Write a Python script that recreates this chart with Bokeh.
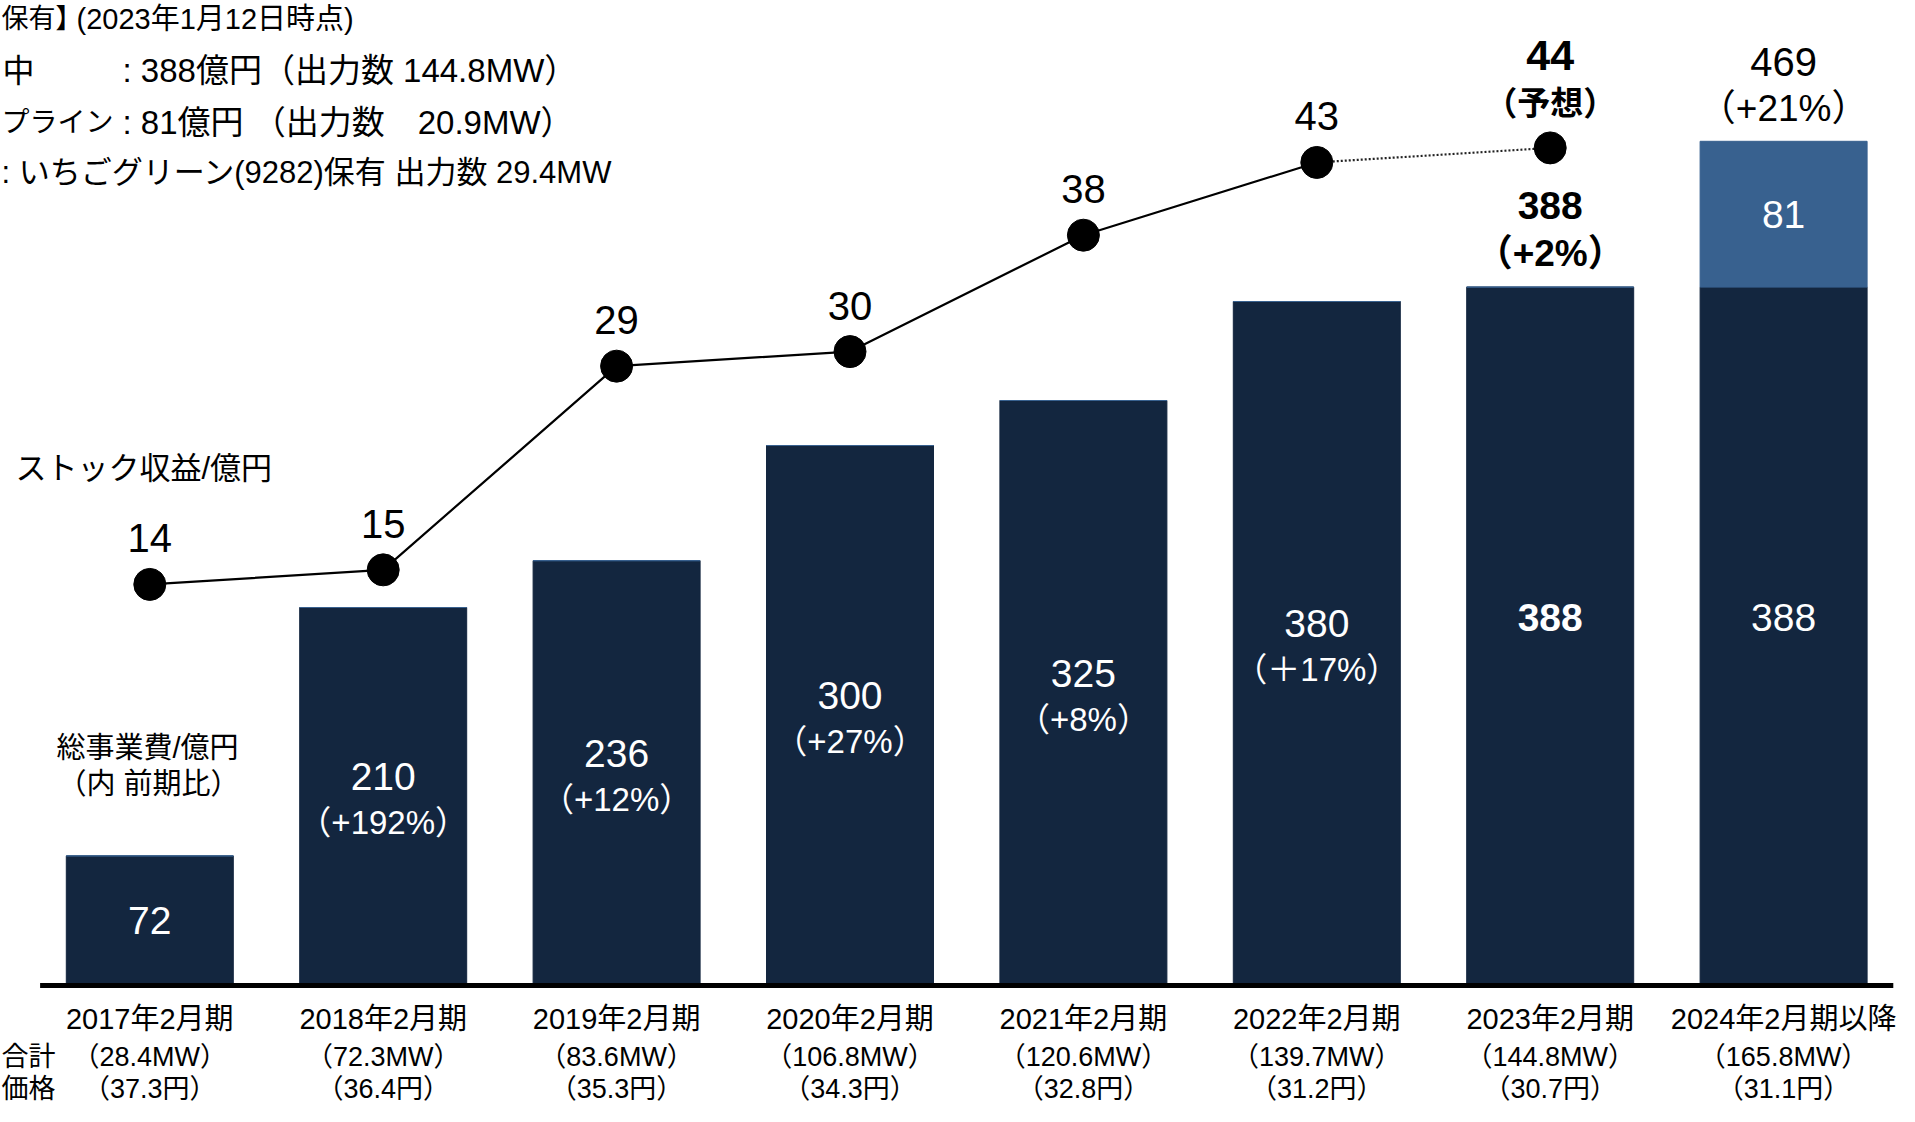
from bokeh.plotting import figure
from bokeh.models import Range1d, ColumnDataSource
from bokeh.core.properties import value
from bokeh.embed import file_html
from bokeh.resources import INLINE

# ---------------- data ----------------
periods = ["2017年2月期", "2018年2月期", "2019年2月期", "2020年2月期",
           "2021年2月期", "2022年2月期", "2023年2月期", "2024年2月期以降"]
capacity_mw = [28.4, 72.3, 83.6, 106.8, 120.6, 139.7, 144.8, 165.8]
unit_price_yen = [37.3, 36.4, 35.3, 34.3, 32.8, 31.2, 30.7, 31.1]
total_cost = [72, 210, 236, 300, 325, 380, 388, 388]          # 総事業費/億円 (operating)
pipeline_cost = [0, 0, 0, 0, 0, 0, 0, 81]                     # パイプライン
growth_labels = ["", "（+192%）", "（+12%）", "（+27%）", "（+8%）",
                 "（＋17%）", "（+2%）", "（+21%）"]
stock_revenue = [14, 15, 29, 30, 38, 43, 44]                  # ストック収益/億円 (last = forecast)

info_lines = [
    "保有】",
    "(2023年1月12日時点)",
    "中",
    ": 388億円（出力数 144.8MW）",
    "プライン",
    ": 81億円 （出力数　20.9MW）",
    ": いちごグリーン(9282)保有 出力数 29.4MW",
]

# ---------------- styling ----------------
FONT = value("Liberation Sans, Noto Sans CJK JP")
NAVY = "#13263F"
BLUE = "#38618F"
W, H = 1899, 1106
X0S, XSTEP = 149.3, 233.4      # px of first category centre and spacing
BASE_S, BAR_PX = 985.0, 1.8    # px of bar baseline, px per 億円
LINE_A, LINE_PX = 787.6, 14.55 # stock line mapping

idx = list(range(len(periods)))

p = figure(width=W, height=H, output_backend="svg", toolbar_location=None,
           x_axis_type=None, y_axis_type=None, min_border=0,
           x_range=Range1d((0 - X0S) / XSTEP, (W - X0S) / XSTEP),
           y_range=Range1d((BASE_S - H) / BAR_PX, BASE_S / BAR_PX))
p.extra_y_ranges = {
    "stock": Range1d((LINE_A - H) / LINE_PX, LINE_A / LINE_PX),
    "px": Range1d(H, 0),
}
p.extra_x_ranges = {"px": Range1d(0, W)}
p.grid.visible = False
p.outline_line_color = None
p.background_fill_color = "white"
p.border_fill_color = "white"


def txt(x, y, text, size, color="black", bold=False, align="center",
        x_off=0, y_off=0, xr=None, yr=None):
    src = ColumnDataSource(dict(x=list(x), y=list(y), t=list(text)))
    kw = {}
    if xr:
        kw["x_range_name"] = xr
    if yr:
        kw["y_range_name"] = yr
    p.text(x="x", y="y", text="t", source=src, text_font=FONT,
           text_font_size=f"{size}px", text_color=color,
           text_font_style="bold" if bold else "normal",
           text_align=align, text_baseline="middle",
           x_offset=x_off, y_offset=y_off, **kw)


# ---------------- bars ----------------
p.vbar(x=idx, top=total_cost, bottom=0, width=167 / XSTEP, color=NAVY)
stack_top = [a + b for a, b in zip(total_cost, pipeline_cost)]
p.vbar(x=idx, top=stack_top, bottom=total_cost, width=167 / XSTEP, color=BLUE)

# baseline
n = len(periods)
p.segment(x0=[-0.47], y0=[0], x1=[n - 1 + 0.47], y1=[0], line_width=5, color="black")

# labels inside bars
mid = [v / 2 for v in total_cost]
txt([idx[0]], [mid[0]], [str(total_cost[0])], 39, "white")
txt(idx[1:6], mid[1:6], [str(v) for v in total_cost[1:6]], 39, "white", y_off=-20)
txt(idx[1:6], mid[1:6], growth_labels[1:6], 33, "white", y_off=26)
txt([idx[6]], [mid[6]], [str(total_cost[6])], 39, "white", bold=True, y_off=-19)
txt([idx[7]], [mid[7]], [str(total_cost[7])], 39, "white", y_off=-19)
txt([idx[7]], [(total_cost[7] + stack_top[7]) / 2], [str(pipeline_cost[7])], 39, "white")

# labels above the last two bars
txt([idx[6]], [stack_top[6]], [str(stack_top[6])], 39, bold=True, y_off=-82)
txt([idx[6]], [stack_top[6]], [growth_labels[6]], 37, bold=True, y_off=-34)
txt([idx[7]], [stack_top[7]], [str(stack_top[7])], 40, y_off=-79)
txt([idx[7]], [stack_top[7]], [growth_labels[7]], 37, y_off=-33)

# ---------------- stock revenue line ----------------
m = len(stock_revenue)
p.line(x=idx[:m - 1], y=stock_revenue[:m - 1], y_range_name="stock",
       line_width=2.2, color="black")
p.line(x=idx[m - 2:m], y=stock_revenue[m - 2:m], y_range_name="stock",
       line_width=2.2, color="#222222", line_dash="2 2")
p.scatter(x=idx[:m], y=stock_revenue, y_range_name="stock", size=32,
          color="black")
txt(idx[:m - 1], stock_revenue[:m - 1], [str(v) for v in stock_revenue[:m - 1]],
    40, y_off=-46, yr="stock")
txt([idx[m - 1]], [stock_revenue[m - 1]], [str(stock_revenue[m - 1])], 43,
    bold=True, y_off=-92, yr="stock")
txt([idx[m - 1]], [stock_revenue[m - 1]], ["（予想）"], 33, bold=True,
    y_off=-44, yr="stock")

# ---------------- category labels under the baseline ----------------
zeros = [0] * n
txt(idx, zeros, periods, 29, y_off=33)
txt(idx, zeros, [f"（{v}MW）" for v in capacity_mw], 27, y_off=71)
txt(idx, zeros, [f"（{v}円）" for v in unit_price_yen], 27, y_off=103)
txt([1, 1], [985 + 71, 985 + 103], ["合計", "価格"], 27, align="left", xr="px", yr="px")

# ---------------- series captions ----------------
txt([15], [468], ["ストック収益/億円"], 31, align="left", xr="px", yr="px")
txt([147, 148], [747, 783], ["総事業費/億円", "（内 前期比）"], 29, xr="px", yr="px")

# ---------------- info block (top-left) ----------------
txt([1], [18], [info_lines[0]], 27, align="left", xr="px", yr="px")
txt([76], [18], [info_lines[1]], 29, align="left", xr="px", yr="px")
txt([2], [70], [info_lines[2]], 32, align="left", xr="px", yr="px")
txt([122], [70], [info_lines[3]], 33, align="left", xr="px", yr="px")
txt([1], [122], [info_lines[4]], 28, align="left", xr="px", yr="px")
txt([122], [122], [info_lines[5]], 33, align="left", xr="px", yr="px")
txt([1], [172], [info_lines[6]], 31, align="left", xr="px", yr="px")

open("out.html", "w").write(file_html(p, INLINE))
